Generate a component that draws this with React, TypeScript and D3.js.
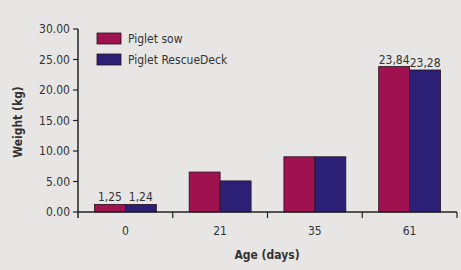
import React from "react";
import * as d3 from "d3";

const categories = ["0", "21", "35", "61"];
const seriesNames = ["Piglet sow", "Piglet RescueDeck"];
const sowValues = [1.25, 6.55, 9.05, 23.84];
const deckValues = [1.24, 5.1, 9.05, 23.28];
const labelSow = ["1,25", "", "", "23,84"];
const labelDeck = ["1,24", "", "", "23,28"];
const yTicks = [0, 5, 10, 15, 20, 25, 30];
const colors = ["#a0124f", "#2b1f76"];

const W = 461, H = 270;
const m = { left: 78, right: 457, top: 29, bottom: 212 };
const font = "'Liberation Sans Narrow', 'DejaVu Sans Condensed', sans-serif";

export default function App() {
  const x = d3.scaleBand<string>().domain(categories).range([m.left, m.right]).paddingInner(0).paddingOuter(0);
  const inner = d3.scaleBand<string>().domain(seriesNames).range([0, x.bandwidth()]).paddingOuter(0.53).paddingInner(0);
  const y = d3.scaleLinear().domain([0, 30]).range([m.bottom, m.top]);
  const series = [sowValues, deckValues];
  const labels = [labelSow, labelDeck];
  const fmt = d3.format(".2f");
  return (
    <svg width={W} height={H} style={{ position: "absolute", left: 0, top: 0 }}>
      <rect x={0} y={0} width={W} height={H} fill="#e7e6e5" />
      {series.map((vals, si) =>
        vals.map((v, i) => (
          <rect key={`${si}-${i}`} x={(x(categories[i]) ?? 0) + (inner(seriesNames[si]) ?? 0)} y={y(v)} width={inner.bandwidth()} height={y(0) - y(v)} fill={colors[si]} stroke="#2a1020" strokeWidth={0.8} />
        ))
      )}
      {series.map((vals, si) =>
        vals.map((v, i) => labels[si][i] ? (
          <text key={`l${si}-${i}`} x={(x(categories[i]) ?? 0) + (inner(seriesNames[si]) ?? 0) + inner.bandwidth() / 2} y={y(v) - 3} textAnchor="middle" fontSize={12} fontFamily={font} fill="#333">{labels[si][i]}</text>
        ) : null)
      )}
      {/* axes */}
      <line x1={m.left} x2={m.left} y1={m.top} y2={m.bottom + 6} stroke="#222" strokeWidth={1.5} />
      <line x1={m.left} x2={m.right} y1={m.bottom} y2={m.bottom} stroke="#222" strokeWidth={1.5} />
      {yTicks.map((t) => (
        <g key={t}>
          <line x1={m.left - 5} x2={m.left} y1={y(t)} y2={y(t)} stroke="#222" strokeWidth={1.2} />
          <text x={m.left - 8} y={y(t) + 4} textAnchor="end" fontSize={12} fontFamily={font} fill="#333">{fmt(t)}</text>
        </g>
      ))}
      {categories.map((c, i) => (
        <g key={c}>
          {i > 0 && <line x1={x(c)} x2={x(c)} y1={m.bottom} y2={m.bottom + 6} stroke="#222" strokeWidth={1.2} />}
          <text x={(x(c) ?? 0) + x.bandwidth() / 2} y={235} textAnchor="middle" fontSize={12} fontFamily={font} fill="#333">{c}</text>
        </g>
      ))}
      <line x1={m.right} x2={m.right} y1={m.bottom} y2={m.bottom + 6} stroke="#222" strokeWidth={1.2} />
      <text x={267} y={259} textAnchor="middle" fontSize={12} fontWeight="bold" fontFamily={font} fill="#333">Age (days)</text>
      <text transform={`translate(22,122) rotate(-90)`} textAnchor="middle" fontSize={12} fontWeight="bold" fontFamily={font} fill="#333">Weight (kg)</text>
      {/* legend */}
      {seriesNames.map((s, i) => (
        <g key={s} transform={`translate(97,${33 + i * 21})`}>
          <rect x={0} y={0} width={24} height={11} fill={colors[i]} stroke="#2a1020" strokeWidth={0.8} />
          <text x={31} y={10} fontSize={12} fontFamily={font} fill="#333">{s}</text>
        </g>
      ))}
    </svg>
  );
}
